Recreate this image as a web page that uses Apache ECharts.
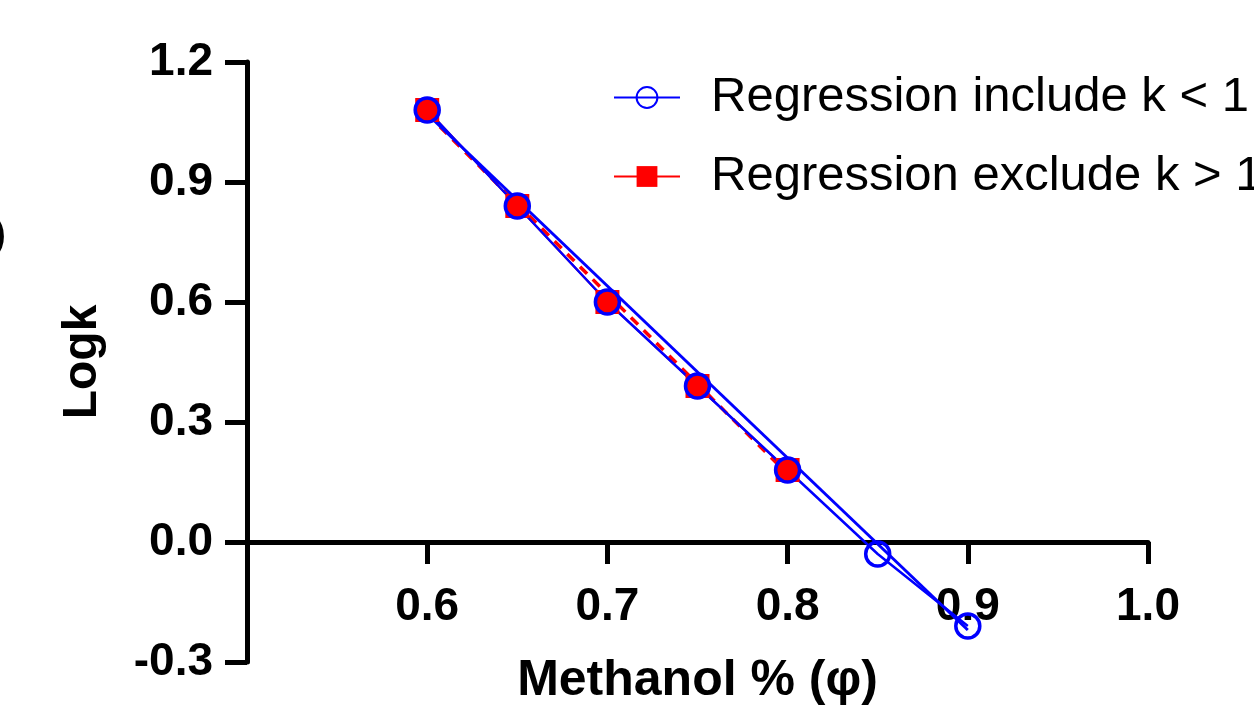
<!DOCTYPE html>
<html lang="en">
<head>
<meta charset="UTF-8" />
<title>Logk vs Methanol</title>
<script src="https://cdn.jsdelivr.net/npm/echarts@6/dist/echarts.min.js"></script>
<style>
	html, body { margin: 0; padding: 0; background: #fff; }
	#main { width: 1254px; height: 706px; }
</style>
</head>
<body>
<div id="main"></div>
<script>
	// data
	var methanol = [0.6, 0.65, 0.7, 0.75, 0.8, 0.85, 0.9];
	var logkAll = [1.08, 0.84, 0.60, 0.39, 0.18, -0.03, -0.21];
	var logkExcl = [1.08, 0.84, 0.60, 0.39, 0.18];
	// regression line end points
	var fitAllX = [0.6, 0.9];
	var fitAllY = [1.07, -0.22];
	var fitExclX = [0.6, 0.8];
	var fitExclY = [1.07, 0.17];
	var yTicks = [-0.3, 0.0, 0.3, 0.6, 0.9, 1.2];

	function pairs(xs, ys) {
		return ys.map(function (v, i) { return [xs[i], v]; });
	}

	var font = 'Arial, "Liberation Sans", Helvetica, sans-serif';
	var chart = echarts.init(document.getElementById('main'));

	chart.setOption({
		animation: false,
		grid: { left: 247, right: 106, top: 62, bottom: 44, containLabel: false, outerBoundsMode: 'none' },
		legend: {
			orient: 'vertical',
			left: 608,
			top: 68,
			itemWidth: 66,
			itemHeight: 26,
			itemGap: 30,
			textStyle: { fontFamily: font, fontSize: 49, color: '#000', padding: [0, 0, 0, 26] },
			data: ['Regression include k < 1', 'Regression exclude k > 1']
		},
		xAxis: {
			type: 'value',
			min: 0.5, max: 1.0, interval: 0.1,
			name: 'Methanol % (φ)',
			nameLocation: 'middle',
			// labels and name are laid out from the grid bottom, not from the zero line
			nameGap: -6,
			nameTextStyle: { fontFamily: font, fontSize: 50, fontWeight: 'bold', color: '#000' },
			axisLine: { onZero: true, lineStyle: { color: '#000', width: 5 } },
			axisTick: { length: 22, lineStyle: { color: '#000', width: 5 } },
			axisLabel: {
				margin: -78,
				fontFamily: font, fontSize: 46, fontWeight: 'bold', color: '#000',
				formatter: function (v) { return Math.abs(v - 0.5) < 1e-9 ? '' : v.toFixed(1); }
			},
			splitLine: { show: false }
		},
		yAxis: {
			type: 'value',
			min: yTicks[0], max: yTicks[yTicks.length - 1], interval: 0.3,
			name: 'Logk',
			nameLocation: 'middle',
			nameGap: 140,
			nameRotate: 90,
			nameTextStyle: { fontFamily: font, fontSize: 48, fontWeight: 'bold', color: '#000' },
			axisLine: { onZero: false, lineStyle: { color: '#000', width: 5 } },
			axisTick: { length: 22, lineStyle: { color: '#000', width: 5 } },
			axisLabel: {
				margin: 34,
				fontFamily: font, fontSize: 46, fontWeight: 'bold', color: '#000',
				formatter: function (v) { return v.toFixed(1); }
			},
			splitLine: { show: false }
		},
		graphic: [{
			type: 'text', left: -8, top: 214,
			style: { text: ')', font: '44px ' + font, fill: '#000' }
		}],
		series: [
			{   // red dashed fit
				type: 'line', name: 'fit excl', data: pairs(fitExclX, fitExclY),
				showSymbol: false, symbol: 'none',
				lineStyle: { color: '#ff0000', width: 3.5, type: [10, 8] }
			},
			{
				type: 'line', name: 'Regression exclude k > 1', data: pairs(methanol, logkExcl),
				symbol: 'rect', symbolSize: 24,
				itemStyle: { color: '#ff0000' },
				lineStyle: { color: '#ff0000', width: 2 }
			},
			{   // blue fit
				type: 'line', name: 'fit all', data: pairs(fitAllX, fitAllY),
				showSymbol: false, symbol: 'none',
				lineStyle: { color: '#0000ff', width: 3 }
			},
			{
				type: 'line', name: 'Regression include k < 1', data: pairs(methanol, logkAll),
				symbol: 'circle', symbolSize: 24,
				itemStyle: { color: 'rgba(0,0,0,0)', borderColor: '#0000ff', borderWidth: 3.5 },
				lineStyle: { color: '#0000ff', width: 2.5 }
			}
		]
	});
</script>
</body>
</html>
